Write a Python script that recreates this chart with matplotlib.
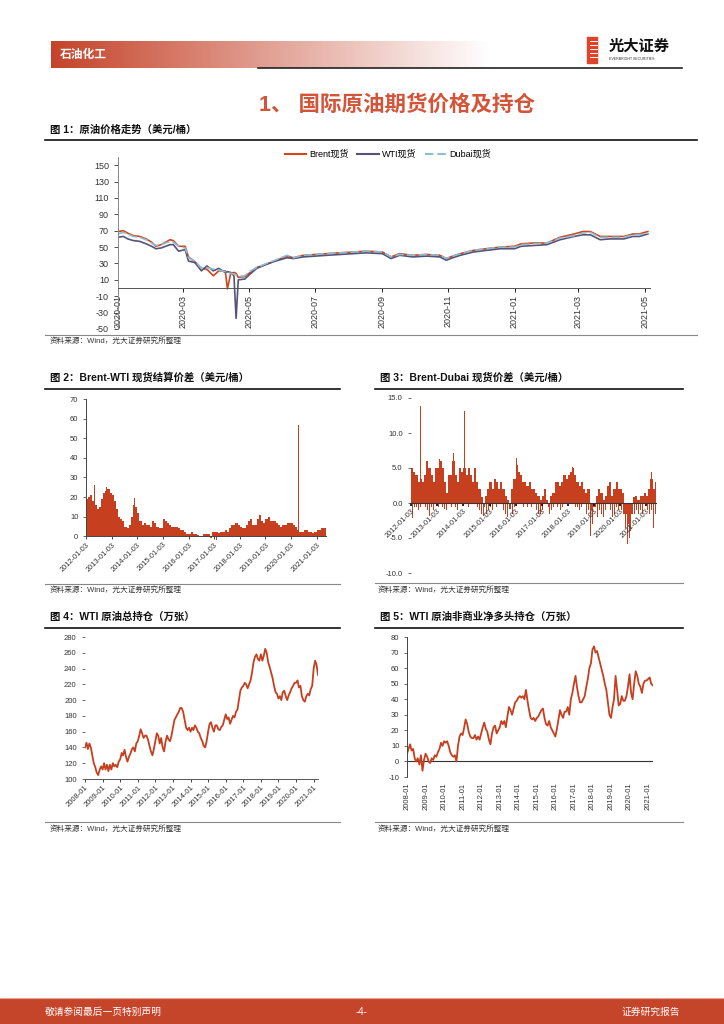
import numpy as np
import pandas as pd
import matplotlib
matplotlib.use("Agg")
import matplotlib.pyplot as plt
from matplotlib.lines import Line2D
from matplotlib.patches import Rectangle

plt.rcParams['font.family'] = ['Liberation Sans', 'Noto Sans CJK SC', 'DejaVu Sans']
plt.rcParams['axes.unicode_minus'] = False

# ---------------- data ----------------
# 图1 原油价格 (美元/桶)
c1_dates = ["2020-01-01", "2020-01-06", "2020-01-10", "2020-01-15", "2020-01-21", "2020-01-27",
            "2020-02-01", "2020-02-05", "2020-02-10", "2020-02-18", "2020-02-21", "2020-02-26",
            "2020-03-03", "2020-03-06", "2020-03-12", "2020-03-18", "2020-03-23", "2020-03-29",
            "2020-04-03", "2020-04-09", "2020-04-11", "2020-04-14", "2020-04-17", "2020-04-19",
            "2020-04-21", "2020-04-27", "2020-05-01", "2020-05-08", "2020-05-17", "2020-05-23",
            "2020-06-05", "2020-06-11", "2020-06-20", "2020-07-01", "2020-07-12", "2020-07-24",
            "2020-08-05", "2020-08-17", "2020-09-01", "2020-09-09", "2020-09-17", "2020-09-29",
            "2020-10-12", "2020-10-24", "2020-10-30", "2020-11-05", "2020-11-12", "2020-11-24",
            "2020-12-06", "2020-12-19", "2021-01-01", "2021-01-07", "2021-01-19", "2021-01-31",
            "2021-02-12", "2021-02-25", "2021-03-05", "2021-03-12", "2021-03-21", "2021-03-30",
            "2021-04-12", "2021-04-20", "2021-04-26", "2021-05-04"]
brent = [69, 70, 67, 64, 63, 60, 56, 51, 53, 59, 58, 51, 51, 38, 32, 24, 23, 15,
         21, 21, -1, 18, 19, 18, 13, 14, 18, 25, 29, 32, 39, 37, 40, 41, 42, 43,
         44, 45, 44, 38, 42, 40, 41, 40, 36, 39, 42, 46, 48, 50, 51, 54, 55, 55,
         62, 66, 69, 69, 63, 63, 63, 66, 66, 69]
wti = [62, 63, 60, 58, 57, 54, 51, 48, 49, 53, 53, 45, 47, 33, 31, 21, 27, 21,
       24, 19, 20, 19, 15, -37, 10, 11, 16, 24, 29, 32, 37, 36, 38, 39, 40, 41,
       42, 43, 42, 36, 40, 38, 39, 38, 34, 37, 40, 44, 46, 48, 48, 51, 52, 53,
       59, 63, 65, 65, 59, 60, 60, 63, 63, 66]
dubai = [66, 68, 66, 63, 62, 59, 55, 52, 53, 57, 56, 51, 49, 37, 33, 24, 25, 23,
         22, 20, 19, 18, 17, 16, 14, 15, 20, 25, 30, 33, 40, 37, 40, 41, 42, 43,
         44, 45, 44, 38, 41, 40, 41, 40, 36, 39, 42, 46, 48, 50, 50, 53, 54, 55,
         61, 64, 67, 68, 62, 62, 62, 65, 65, 67]

# 图2 Brent-WTI 价差, 月度 2012-01 .. 2021-05
c2_monthly = [19, 20, 21, 18, 16, 14, 15, 19, 22, 23, 24, 22,
              21, 18, 14, 10, 9, 8, 5, 4, 6, 10, 16, 15,
              12, 8, 6, 7, 6, 6, 5, 8, 7, 5, 4, 4,
              9, 8, 7, 6, 5, 5, 5, 4, 3, 3, 2, 1,
              1, 2, 1, 1, 0.5, 0, -0.5, 1, 1, 1, -1, 2,
              2, 2, 1.5, 2, 2, 3, 2, 4, 6, 6, 7, 6,
              5, 4, 4, 6, 8, 9, 6, 6, 9, 11, 8, 7,
              9, 10, 8, 8, 8, 7, 6, 5, 6, 6, 7, 7,
              7, 6, 5, 3, 2, 2, 3, 3, 2, 2, 1.5, 2,
              3, 3, 4, 4, 4]
c2_spike_dates = ["2012-05-02", "2012-10-20", "2013-11-25", "2015-01-15", "2016-07-01",
                  "2017-02-01", "2018-09-20", "2019-02-20", "2020-04-20", "2020-04-22"]
c2_spike_vals = [26, 25, 19.5, 12.5, -2, -2, 12.3, 11.8, 56.8, -6.3]

# 图3 Brent-Dubai 价差, 月度 2012-01 .. 2021-05
c3_monthly = [5, 4.5, 4, 3, 3.5, 3, 4, 6, 5, 4, 3, 5,
              5, 6, 5, 3, 1.5, 4, 4, 6, 4, 3, 5, 4.5,
              5, 4, 5, 4, 3, 5, 3, 2, 0.8, -0.5, 1, 2,
              3, 2, 3.5, 3, 2, 3, 2, 1, 0.5, -0.8, 2, 3.5,
              5.5, 4.5, 4, 3, 3, 2.5, 3, 2, 2, 1.5, 1, 0.5,
              1, 2, 0.5, -0.5, 1, 1.5, 3, 3, 2.5, 3, 4, 3.5,
              4, 4.5, 5, 4, 3, 2.5, 3, 2, 1.5, 2, -1, -0.5,
              -0.5, 1, 2, 1.5, 0.5, 1, 2.5, 3, 1, 2, 3, 2,
              2, 1.5, -1.5, -3, -4, -1.5, 0.8, 1, 0.5, 1, 1, 1.5,
              1, 2, 3.5, 2, 3]
# monthly lows (negative swings)
c3_lows = [-2.2, -0.5, -0.5, -1, -0.5, -1.2, -0.5, -1, -1.8, -0.5, -1, -0.5,
           -0.5, 0, -0.5, -0.8, -1, 0, -0.5, 0, -0.5, -1, 0, 0,
           0, 0, -0.5, 0, -0.5, 0, -0.5, -1, -1.5, -1.8, -1.5, -1,
           -0.5, -1, 0, -0.5, -0.5, 0, -1, -1.5, -2, -2.5, -1.5, -0.5,
           0, 0, 0, -0.5, 0, -0.5, 0, -0.5, -0.5, -1, -1.5, -1.5,
           -1, -0.5, -1.5, -1.5, -1, -0.5, 0, -0.5, -1, -0.5, 0, 0,
           0, 0, 0, -0.5, -0.5, -1, -0.5, -1, -1.5, -1, -4.7, -3,
           -2.5, -2, -1, -1.5, -2, -1, -0.5, -1, -2, -1.5, -0.5, -1,
           -1, -1.5, -3.5, -5.9, -5, -3, -1.5, -1, -1.5, -1, -1.5, -1,
           -1, -1.5, -1, -3.5, -1.5]
c3_spike_dates = ["2012-01-04", "2012-03-10", "2012-05-15", "2012-08-10", "2013-02-05",
                  "2013-08-15", "2014-01-20", "2014-06-15", "2016-01-12", "2017-11-20",
                  "2018-03-05", "2019-05-10", "2021-03-15"]
c3_spike_vals = [5.5, 6.5, 13.8, 8.1, 6.3, 7.2, 13.2, 5.5, 6.5, 5.0, 5.1, 4.1, 4.4]

# 图4 WTI 原油总持仓 (万张), 月度 2008-01 .. 2021-04
c4_oi = [140, 146, 138, 145, 140, 130, 120, 115, 108, 105, 112, 116,
         112, 120, 112, 118, 110, 118, 112, 120, 116, 118, 115, 122,
         125, 133, 130, 137, 128, 122, 128, 132, 138, 140, 135, 145,
         148, 155, 163, 158, 152, 155, 155, 150, 142, 135, 130, 138,
         148, 158, 155, 145, 152, 140, 135, 148, 155, 150, 148, 155,
         165, 175, 178, 182, 185, 190, 190, 185, 175, 165, 162, 165,
         160, 165, 162, 168, 165, 160, 158, 152, 148, 142, 140, 148,
         160, 170, 172, 165, 160, 168, 168, 163, 162, 166, 168, 175,
         182, 176, 178, 170, 175, 180, 178, 185, 188, 200, 212, 216,
         218, 222, 220, 215, 220, 225, 235, 248, 255, 258, 252, 250,
         258, 250, 256, 265, 260, 248, 242, 235, 228, 218, 210, 208,
         202, 205, 200, 210, 212, 205, 200, 206, 210, 215, 218, 222,
         222, 225, 216, 218, 205, 200, 198, 205, 208, 206, 214, 218,
         240, 250, 245, 232]

# 图5 WTI 非商业净多头持仓 (万张), 月度 2008-01 .. 2021-04
c5_net = [5, 8, 11, 7, 8, 2, 0, 2, -2, 4, -6, 1,
          5, 3, 0, -1, 2, 1, 4, 3, 6, 8, 12, 10,
          13, 12, 13, 10, 6, 4, 3, 4, 0, 10, 16, 18,
          17, 22, 27, 24, 19, 16, 15, 15, 17, 14, 16, 14,
          18, 22, 25, 21, 19, 14, 11, 18, 22, 23, 18, 20,
          22, 26, 24, 26, 22, 29, 35, 33, 30, 34, 38, 39,
          41, 42, 41, 42, 40, 46, 39, 33, 28, 27, 28, 26,
          28, 29, 31, 33, 34, 28, 24, 23, 26, 22, 20, 18,
          16, 21, 27, 33, 30, 28, 32, 32, 35, 30, 40, 44,
          50, 55, 48, 42, 38, 38, 40, 42, 48, 53, 60, 63,
          72, 74, 70, 71, 67, 63, 59, 55, 50, 46, 38, 30,
          28, 35, 40, 55, 46, 36, 37, 42, 39, 39, 42, 48,
          56, 44, 40, 50, 58, 55, 50, 48, 44, 50, 52, 52,
          53, 54, 50, 49]

RED = "#C63F1F"
W, H = 724, 1024


def box(l, t, r, b):
    return [l / W, 1 - b / H, (r - l) / W, (b - t) / H]


fig = plt.figure(figsize=(W / 100, H / 100), dpi=100)

# background layer in pixel coordinates
bg = fig.add_axes([0, 0, 1, 1], zorder=-1)
bg.set_xlim(0, W)
bg.set_ylim(H, 0)
bg.axis("off")

# header gradient bar
grad = np.linspace(0, 1, 256)
c0 = np.array([197, 67, 42]) / 255.0
rgb = c0[None, :] * (1 - grad[:, None]) + grad[:, None]
bg.imshow(rgb[None, :, :], extent=(51, 490, 68, 41), aspect="auto", zorder=1)
bg.text(60, 55, "石油化工", color="white", fontsize=8.5, fontweight="bold", va="center", zorder=2)
bg.plot([258, 682], [68, 68], color="#222222", lw=1.2, zorder=2)

# logo
bg.add_patch(Rectangle((587, 37), 10, 26, color="#E0432A", zorder=2))
for yy in [41, 45, 49, 53, 57]:
    bg.plot([590, 597], [yy, yy], color="white", lw=0.7, zorder=3)
bg.text(609, 47, "光大证券", fontsize=11, fontweight="bold", va="center", color="#111111")
bg.text(609, 59, "EVERBRIGHT SECURITIES", fontsize=2.6, va="center", color="#333333")

# section title
bg.text(397, 105, "1、 国际原油期货价格及持仓", fontsize=15.5, color="#D2553A",
        ha="center", va="center", fontweight="bold")


def fig_title(x, y, s, x0, x1, rule_y):
    bg.text(x, y, s, fontsize=7.5, fontweight="bold", va="center", color="#111111")
    bg.plot([x0, x1], [rule_y, rule_y], color="#111111", lw=1.2)


def source(x, y, x0, x1, rule_y):
    bg.plot([x0, x1], [rule_y, rule_y], color="#888888", lw=0.8)
    bg.text(x, y, "资料来源：Wind，光大证券研究所整理", fontsize=5.5, va="center", color="#333333")


fig_title(50, 130, "图 1：原油价格走势（美元/桶）", 45, 697, 140)
source(50, 341, 45, 697, 335)
fig_title(50, 378, "图 2：Brent-WTI 现货结算价差（美元/桶）", 45, 340, 389)
source(50, 590, 45, 340, 584)
fig_title(380, 378, "图 3：Brent-Dubai 现货价差（美元/桶）", 375, 683, 389)
source(378, 590, 375, 683, 583)
fig_title(50, 617, "图 4：WTI 原油总持仓（万张）", 45, 340, 628)
source(50, 829, 45, 340, 822)
fig_title(380, 617, "图 5：WTI 原油非商业净多头持仓（万张）", 375, 683, 628)
source(378, 829, 375, 683, 822)

# footer
bg.add_patch(Rectangle((0, 999), W, 25, color="#C5452A", zorder=1))
bg.plot([0, W], [997.5, 997.5], color="#E8A393", lw=0.8)
bg.text(45, 1012, "敬请参阅最后一页特别声明", color="white", fontsize=7, va="center", zorder=3)
bg.text(362, 1012, "-4-", color="white", fontsize=7, va="center", ha="center", zorder=3)
bg.text(680, 1012, "证券研究报告", color="white", fontsize=7, va="center", ha="right", zorder=3)

TICK_C = "#333333"

# ---------------- chart 1 ----------------
ax1 = fig.add_axes(box(118, 157, 650, 329))
ax1.set_facecolor("none")
for s in ["top", "right"]:
    ax1.spines[s].set_visible(False)
ax1.spines["bottom"].set_position(("data", 0))
d1 = pd.to_datetime(c1_dates)
ax1.plot(d1, brent, color="#D0461F", lw=1.2)
ax1.plot(d1, wti, color="#54537A", lw=1.2)
ax1.plot(d1, dubai, color="#8DBDCC", lw=1.2, ls=(0, (5, 2)))
ax1.set_xlim(pd.Timestamp("2020-01-01"), pd.Timestamp("2021-05-06"))
ax1.set_ylim(-50, 160)
ax1.set_yticks(range(-50, 151, 20))
t1 = pd.to_datetime(["2020-01-01", "2020-03-01", "2020-05-01", "2020-07-01", "2020-09-01",
                     "2020-11-01", "2021-01-01", "2021-03-01", "2021-05-01"])
ax1.set_xticks(t1)
ax1.set_xticklabels([t.strftime("%Y-%m") for t in t1], rotation=90, fontsize=6.5, color=TICK_C)
ax1.tick_params(axis="y", labelsize=6.5, colors=TICK_C, length=3, width=0.6)
ax1.tick_params(axis="x", length=3, width=0.6, pad=2)
ax1.spines["bottom"].set_color("#555555")
ax1.spines["left"].set_color("#888888")
ax1.spines["bottom"].set_linewidth(0.7)
ax1.spines["left"].set_linewidth(0.7)
handles = [Line2D([], [], color="#D0461F", lw=1.5),
           Line2D([], [], color="#54537A", lw=1.5),
           Line2D([], [], color="#8DBDCC", lw=1.5, ls=(0, (4, 2)))]
fig.legend(handles, ["Brent现货", "WTI现货", "Dubai现货"], loc="center",
           bbox_to_anchor=(388 / W, 1 - 154 / H), ncol=3, frameon=False, fontsize=6.5,
           handlelength=2.4, columnspacing=1.0, handletextpad=0.3)

# ---------------- chart 2 ----------------
ax2 = fig.add_axes(box(86, 399, 326, 552))
ax2.set_facecolor("none")
for s in ["top", "right"]:
    ax2.spines[s].set_visible(False)
ax2.spines["bottom"].set_position(("data", 0))
m2 = pd.date_range("2012-01-01", periods=len(c2_monthly), freq="MS")
ax2.bar(m2, c2_monthly, width=pd.Timedelta(days=31), align="edge", color=RED, lw=0)
ax2.bar(pd.to_datetime(c2_spike_dates), c2_spike_vals, width=pd.Timedelta(days=6), color=RED, lw=0)
ax2.set_xlim(pd.Timestamp("2012-01-01"), pd.Timestamp("2021-05-15"))
ax2.set_ylim(-8, 70)
ax2.set_yticks(range(0, 71, 10))
t2 = pd.to_datetime([f"{y}-01-03" for y in range(2012, 2022)])
ax2.set_xticks(t2)
ax2.set_xticklabels([t.strftime("%Y-%m-%d") for t in t2], rotation=45, ha="right",
                    rotation_mode="anchor", fontsize=5.3, color=TICK_C)
ax2.tick_params(axis="y", labelsize=5.5, colors=TICK_C, length=2, width=0.5)
ax2.tick_params(axis="x", length=2, width=0.5, pad=1.5)
ax2.spines["left"].set_bounds(0, 70)
for s in ["bottom", "left"]:
    ax2.spines[s].set_color("#444444")
    ax2.spines[s].set_linewidth(0.7)

# ---------------- chart 3 ----------------
ax3 = fig.add_axes(box(411, 398, 656, 573))
ax3.set_facecolor("none")
for s in ["top", "right", "left"]:
    ax3.spines[s].set_visible(False)
ax3.spines["bottom"].set_position(("data", 0))
m3 = pd.date_range("2012-01-01", periods=len(c3_monthly), freq="MS")
ax3.bar(m3, c3_monthly, width=pd.Timedelta(days=31), align="edge", color=RED, lw=0)
ax3.bar(m3 + pd.Timedelta(days=15), c3_lows, width=pd.Timedelta(days=12), color=RED, lw=0)
ax3.bar(pd.to_datetime(c3_spike_dates), c3_spike_vals, width=pd.Timedelta(days=6), color=RED, lw=0)
ax3.set_xlim(pd.Timestamp("2012-01-01"), pd.Timestamp("2021-05-18"))
ax3.set_ylim(-10, 15)
ax3.set_yticks(range(-10, 16, 5))
ax3.set_yticklabels([f"{v:.1f}" for v in range(-10, 16, 5)])
ax3.set_xticks(t2)
ax3.set_xticklabels([t.strftime("%Y-%m-%d") for t in t2], rotation=45, ha="right",
                    rotation_mode="anchor", fontsize=5.3, color=TICK_C)
ax3.tick_params(axis="y", labelsize=5.5, colors=TICK_C, length=2, width=0.5, pad=4)
ax3.tick_params(axis="x", length=2, width=1.2, pad=1.5)
ax3.spines["bottom"].set_color("#333333")
ax3.spines["bottom"].set_linewidth(0.8)

# ---------------- chart 4 ----------------
ax4 = fig.add_axes(box(85, 637, 318, 779))
ax4.set_facecolor("none")
m4 = pd.date_range("2008-01-01", periods=len(c4_oi), freq="MS")
ax4.plot(m4, c4_oi, color=RED, lw=1.3)
ax4.set_xlim(pd.Timestamp("2008-01-01"), pd.Timestamp("2021-04-01"))
ax4.set_ylim(100, 280)
ax4.set_yticks(range(100, 281, 20))
t4 = pd.to_datetime([f"{y}-01-01" for y in range(2008, 2022)])
ax4.set_xticks(t4)
ax4.set_xticklabels([t.strftime("%Y-%m") for t in t4], rotation=45, ha="right",
                    rotation_mode="anchor", fontsize=5.5, color=TICK_C)
ax4.tick_params(axis="y", labelsize=5.5, colors=TICK_C, length=2, width=0.5, pad=4)
ax4.tick_params(axis="x", length=2, width=0.5, pad=1.5)
for s in ["top", "right", "left"]:
    ax4.spines[s].set_visible(False)
ax4.spines["bottom"].set_color("#555555")
ax4.spines["bottom"].set_linewidth(0.7)

# ---------------- chart 5 ----------------
ax5 = fig.add_axes(box(407, 637, 653, 777))
ax5.set_facecolor("none")
m5 = pd.date_range("2008-01-01", periods=len(c5_net), freq="MS")
ax5.axhline(0, color="#333333", lw=0.8)
ax5.plot(m5, c5_net, color=RED, lw=1.3)
ax5.set_xlim(pd.Timestamp("2008-01-01"), pd.Timestamp("2021-04-07"))
ax5.set_ylim(-10, 80)
ax5.set_yticks(range(-10, 81, 10))
ax5.set_xticks(t4)
ax5.set_xticklabels([t.strftime("%Y-%m") for t in t4], rotation=90, fontsize=5.5, color=TICK_C)
ax5.tick_params(axis="y", labelsize=5.5, colors=TICK_C, length=2, width=0.5)
ax5.tick_params(axis="x", length=0, pad=4)
for s in ["top", "right", "bottom"]:
    ax5.spines[s].set_visible(False)
ax5.spines["left"].set_color("#444444")
ax5.spines["left"].set_linewidth(0.7)

fig.savefig("out.png", dpi=100)
